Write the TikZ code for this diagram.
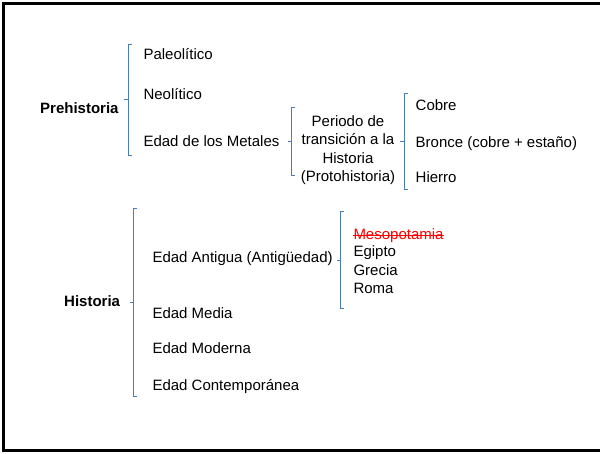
\documentclass[tikz,border=0pt]{standalone}
\usepackage{fontspec}
\setmainfont{Liberation Sans}
\definecolor{brk}{RGB}{74,126,187}
\newcommand\drawbracket[4]{% name, x, top, bottom
  \coordinate (#1) at (#2,{(#3+#4)/2});
  \draw[brace] (#2+3.5,#3) -- (#2,#3) -- (#2,#4) -- (#2+3.5,#4);
  \draw[brace] (#1) -- ++(-4,0);}
\begin{document}
\begin{tikzpicture}[x=1pt,y=-1pt,
  lbl/.style={anchor=base west,inner sep=0pt,font=\fontsize{15}{18}\selectfont},
  hd/.style={anchor=base west,inner sep=0pt,font=\fontsize{15}{18}\selectfont\bfseries},
  ctr/.style={anchor=base,inner sep=0pt,font=\fontsize{15}{18}\selectfont},
  brace/.style={draw=brk,line width=1pt}]
\useasboundingbox (0,0) rectangle (600,453);
\draw[line width=3pt] (600,3.5) -- (3.5,3.5) -- (3.5,450.5) -- (600,450.5);
% Prehistoria
\node[hd] (pre) at (40,113.3) {Prehistoria};
\node[lbl] (pal) at (143.3,59) {Paleolítico};
\node[lbl] (neo) at (143.3,99.3) {Neolítico};
\node[lbl] (met) at (143.3,146.7) {Edad de los Metales};
\node[ctr] (p1) at (348,126) {Periodo de};
\node[ctr] (p2) at (348,144.5) {transición a la};
\node[ctr] (p3) at (348,163) {Historia};
\node[ctr] (p4) at (348,181) {(Protohistoria)};
\node[lbl] (cob) at (415.5,110.7) {Cobre};
\node[lbl] (bro) at (415.5,147.3) {Bronce (cobre + estaño)};
\node[lbl] (hie) at (415.5,182.7) {Hierro};
% Historia
\node[hd] (his) at (64,306.7) {Historia};
\node[lbl] (ant) at (152.3,262.7) {Edad Antigua (Antigüedad)};
\node[lbl] (med) at (152.3,318.3) {Edad Media};
\node[lbl] (mod) at (152.3,353.3) {Edad Moderna};
\node[lbl] (con) at (152.3,390) {Edad Contemporánea};
\node[lbl,text=red] (mes) at (353.3,239) {Mesopotamia};
\draw[red,line width=1pt] ([yshift=4pt]mes.base west) -- ([yshift=4pt]mes.base east);
\node[lbl] (egi) at (353.3,256.7) {Egipto};
\node[lbl] (gre) at (353.3,275) {Grecia};
\node[lbl] (rom) at (353.3,293.3) {Roma};
% brackets
\drawbracket{bpre}{128.3}{44.3}{155.5}
\drawbracket{bmet}{291.7}{107.3}{175}
\drawbracket{bpro}{404.3}{93.3}{189}
\drawbracket{bhis}{133.8}{208.3}{396}
\drawbracket{bant}{340.7}{211.7}{308.3}
\end{tikzpicture}
\end{document}
